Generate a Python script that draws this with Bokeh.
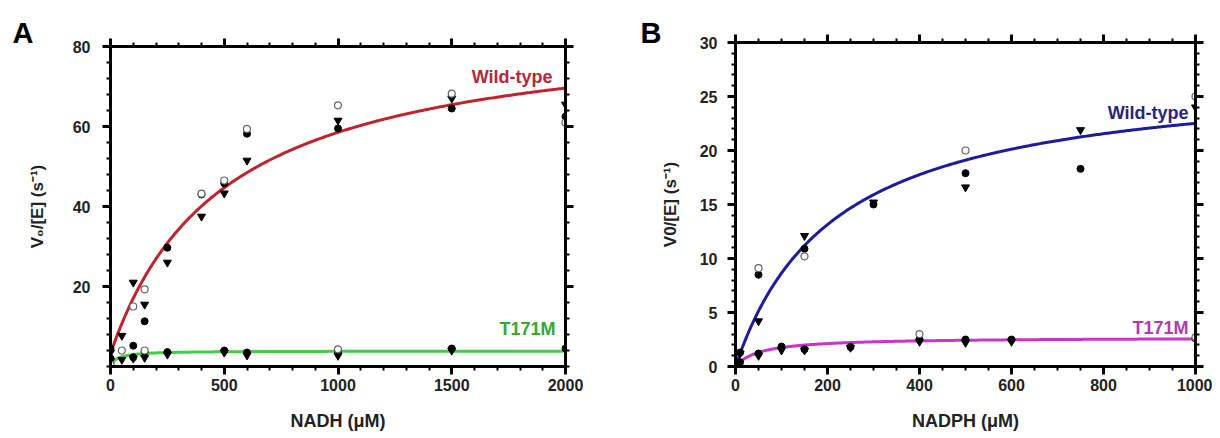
import numpy as np
from bokeh.plotting import figure
from bokeh.models import Range1d, LinearAxis, FixedTicker, Label, Title, CustomJSTickFormatter
from bokeh.layouts import row
from bokeh.embed import file_html
from bokeh.resources import INLINE

# ---------------- Panel A : NADH ----------------
a_x_ticks = [0, 500, 1000, 1500, 2000]
a_y_ticks = [20, 40, 60, 80]

# Wild-type replicates
a_wt_fc_x = [0, 100, 150, 250, 400, 500, 600, 1000, 1500, 2000]
a_wt_fc_y = [4.5, 5.2, 11.3, 29.7, 43.0, 45.8, 58.2, 59.5, 64.5, 62.5]
a_wt_tr_x = [0, 50, 100, 150, 250, 400, 500, 600, 1000, 1500, 2000]
a_wt_tr_y = [3.5, 7.7, 21.0, 15.5, 26.0, 37.5, 43.3, 51.5, 61.5, 67.0, 65.5]
a_wt_oc_x = [100, 150, 400, 500, 600, 1000, 1500, 2000]
a_wt_oc_y = [15.0, 19.3, 43.2, 46.5, 59.4, 65.3, 68.2, 61.0]
# T171M replicates
a_mu_fc_x = [0, 100, 150, 250, 500, 600, 1000, 1500, 2000]
a_mu_fc_y = [2.0, 2.3, 3.7, 3.6, 4.0, 3.5, 3.4, 4.5, 4.5]
a_mu_tr_x = [0, 50, 100, 150, 250, 500, 600, 1000, 1500]
a_mu_tr_y = [1.5, 1.7, 2.0, 2.2, 3.0, 3.5, 2.8, 2.7, 4.0]
a_mu_oc_x = [0, 50, 150, 1000]
a_mu_oc_y = [0.5, 4.0, 4.0, 4.3]
# Fitted parameters (offset, Vmax, Km)
a_wt_fit = (3.2, 83.0, 500.0)
a_mu_fit = (0.0, 3.9, 30.0)

# ---------------- Panel B : NADPH ----------------
b_x_ticks = [0, 200, 400, 600, 800, 1000]
b_y_ticks = [0, 5, 10, 15, 20, 25, 30]

b_wt_fc_x = [10, 50, 150, 300, 500, 750]
b_wt_fc_y = [1.3, 8.5, 10.9, 15.0, 17.9, 18.3]
b_wt_tr_x = [10, 50, 150, 300, 500, 750, 1000]
b_wt_tr_y = [1.2, 4.2, 12.1, 15.2, 16.6, 21.9, 24.0]
b_wt_oc_x = [50, 150, 500, 1000]
b_wt_oc_y = [9.1, 10.2, 20.0, 25.0]
b_mu_fc_x = [10, 50, 100, 150, 250, 400, 500, 600, 1000]
b_mu_fc_y = [0.4, 1.2, 1.85, 1.6, 1.8, 2.5, 2.5, 2.5, 2.6]
b_mu_tr_x = [50, 100, 150, 250, 400, 500, 600]
b_mu_tr_y = [1.0, 1.5, 1.5, 1.75, 2.3, 2.2, 2.3]
b_mu_oc_x = [400, 1000]
b_mu_oc_y = [3.0, 2.7]
b_wt_fit = (0.0, 27.4, 217.0)
b_mu_fit = (0.0, 2.69, 53.5)

FONT = "Liberation Sans"


def mm_curve(params, xmax):
    off, vmax, km = params
    xs = np.linspace(0, xmax, 300)
    return xs, off + vmax * xs / (km + xs)


def style_axis(ax, show_labels, standoff, label_size="17px"):
    ax.axis_line_width = 3
    ax.axis_line_color = "black"
    ax.major_tick_line_width = 3
    ax.minor_tick_line_width = 2
    ax.major_tick_out = 8
    ax.major_tick_in = 0
    ax.minor_tick_out = 4
    ax.minor_tick_in = 0
    ax.major_label_text_font = FONT
    ax.major_label_text_font_style = "bold"
    ax.major_label_text_font_size = "16px"
    ax.major_label_text_color = "#222222"
    ax.major_label_standoff = standoff
    ax.axis_label_text_font = FONT
    ax.axis_label_text_font_style = "bold"
    ax.axis_label_text_font_size = label_size
    ax.axis_label_text_color = "#222222"
    if not show_labels:
        ax.formatter = CustomJSTickFormatter(code="return ''")
        ax.major_label_standoff = 0


def panel(width, height, borders, xr, yr, xticks, xminor, yticks, yminor,
          xlabel, ylabel, ylab_standoff, ytick_standoff, letter, letter_offset,
          letter_standoff):
    left, right, top, bottom = borders
    p = figure(width=width, height=height, output_backend="svg",
               toolbar_location=None, x_range=Range1d(*xr), y_range=Range1d(*yr),
               min_border_left=left, min_border_right=right,
               min_border_top=top, min_border_bottom=bottom)
    p.frame_align = False
    p.title = Title(text=letter, align="left", offset=letter_offset,
                    text_font=FONT, text_font_style="bold",
                    text_font_size="29px", text_color="black",
                    standoff=letter_standoff)
    p.outline_line_color = None
    p.xgrid.visible = False
    p.ygrid.visible = False
    p.background_fill_color = "white"
    p.border_fill_color = "white"
    xt = FixedTicker(ticks=xticks, minor_ticks=xminor)
    yt = FixedTicker(ticks=yticks, minor_ticks=yminor)
    p.xaxis.ticker = xt
    p.yaxis.ticker = yt
    style_axis(p.xaxis[0], True, 4, "18px")
    style_axis(p.yaxis[0], True, ytick_standoff, "17px")
    p.xaxis.axis_label = xlabel
    p.yaxis.axis_label = ylabel
    p.xaxis.axis_label_standoff = 17
    p.yaxis.axis_label_standoff = ylab_standoff
    top_ax = LinearAxis(ticker=xt)
    style_axis(top_ax, False, 0)
    right_ax = LinearAxis(ticker=yt)
    style_axis(right_ax, False, 0)
    p.add_layout(top_ax, "above")
    p.add_layout(right_ax, "right")
    return p


def scatter_set(p, fc, tr, oc):
    p.scatter(tr[0], tr[1], marker="inverted_triangle", size=8,
              fill_color="black", line_color="black")
    p.scatter(fc[0], fc[1], marker="circle", size=7,
              fill_color="black", line_color="black")
    p.scatter(oc[0], oc[1], marker="circle", size=7,
              fill_color="white", line_color="#666666", line_width=1.2)


def text(p, x, y, t, color, size="18px", align="right"):
    p.add_layout(Label(x=x, y=y, text=t, text_color=color, text_font=FONT,
                       text_font_style="bold", text_font_size=size,
                       text_align=align, text_baseline="alphabetic"))


# ---- Panel A ----
pa = panel(608, 436, (110, 43, 46, 70), (0, 2000), (0, 80),
           a_x_ticks, list(range(0, 2001, 100)), a_y_ticks, list(range(0, 81, 4)),
           "NADH (\u03bcM)", "V\u2080/[E] (s\u207b\u00b9)", 23, 12, "A", -98, -20)
xs, ys = mm_curve(a_wt_fit, 2000)
pa.line(xs, ys, line_color="#c0222e", line_width=3)
xs, ys = mm_curve(a_mu_fit, 2000)
pa.line(xs, ys, line_color="#44cc44", line_width=3)
scatter_set(pa, (a_wt_fc_x, a_wt_fc_y), (a_wt_tr_x, a_wt_tr_y), (a_wt_oc_x, a_wt_oc_y))
scatter_set(pa, (a_mu_fc_x, a_mu_fc_y), (a_mu_tr_x, a_mu_tr_y), (a_mu_oc_x, a_mu_oc_y))
text(pa, 1943, 72.3, "Wild-type", "#b5283a")
text(pa, 1956, 9.3, "T171M", "#33a833")

# ---- Panel B ----
pb = panel(604, 436, (127, 17, 42, 70), (0, 1000), (0, 30),
           b_x_ticks, list(range(0, 1001, 50)), b_y_ticks, list(range(0, 31, 1)),
           "NADPH (\u03bcM)", "V0/[E] (s\u207b\u00b9)", 17, 10, "B", -95, -28)
xs, ys = mm_curve(b_wt_fit, 1000)
pb.line(xs, ys, line_color="#1c1c9c", line_width=3)
xs, ys = mm_curve(b_mu_fit, 1000)
pb.line(xs, ys, line_color="#cc33cc", line_width=3)
scatter_set(pb, (b_wt_fc_x, b_wt_fc_y), (b_wt_tr_x, b_wt_tr_y), (b_wt_oc_x, b_wt_oc_y))
scatter_set(pb, (b_mu_fc_x, b_mu_fc_y), (b_mu_tr_x, b_mu_tr_y), (b_mu_oc_x, b_mu_oc_y))
text(pb, 985, 23.5, "Wild-type", "#25257f")
text(pb, 985, 3.55, "T171M", "#b03ab0")

layout = row(pa, pb)
open("out.html", "w").write(file_html(layout, INLINE))
